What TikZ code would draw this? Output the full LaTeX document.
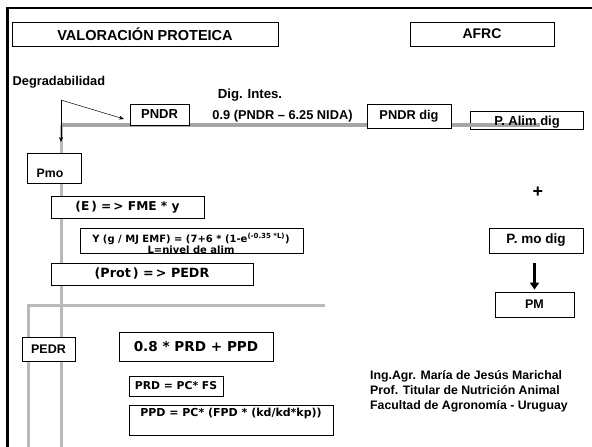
\documentclass[tikz,border=0pt]{standalone}
\usepackage{fontspec}
\setmainfont{Liberation Sans}
\newfontfamily\vf{DejaVu Sans}
\usetikzlibrary{arrows.meta}
\begin{document}
\begin{tikzpicture}[x=1pt,y=-1pt,
  box/.style={draw=black, line width=0.8pt, fill=white, inner sep=0pt, font=\bfseries},
  txt/.style={inner sep=0pt, font=\bfseries},
  frame/.style={black, line width=2.6pt},
  grayline/.style={draw={rgb,255:red,165;green,165;blue,165}, line width=3.4pt},
  lightline/.style={draw={rgb,255:red,185;green,185;blue,185}, line width=3pt},
  thin/.style={draw=black, line width=0.5pt, -{Stealth[length=5pt,width=4pt]}},
  bigarrow/.style={draw=black, line width=2.6pt, -{Triangle[length=7pt,width=9pt]}}
]
\useasboundingbox (0,0) rectangle (592,447);
\fill[white] (0,0) rectangle (592,447);

% frame
\coordinate (ftl) at (7.5,8);
\coordinate (ftr) at (592,8);
\coordinate (fbl) at (7.5,447);
\draw[frame] (ftr) -- (ftl) -- (fbl);

% gray structural lines
\coordinate (g1) at (61,125);
\coordinate (g2) at (540,125);
\coordinate (g3) at (61,447);
\coordinate (h1) at (28,305);
\coordinate (h2) at (325,305);
\coordinate (h3) at (28,447);
\draw[lightline] (g1) -- (g3);
\draw[lightline] (h3) -- (h1) -- (h2);

% P. Alim dig box (unfilled, line runs through)
\node[box, fill=none, minimum width=113pt, minimum height=18pt] (palim) at (526.5,120) {};
\draw[grayline] (g1) -- (g2);
\node[txt, font=\bfseries\fontsize{13}{15}\selectfont] (palimt) at (527,122.5) {P. Alim dig};

% titles
\node[box, minimum width=266pt, minimum height=24pt, font=\bfseries\fontsize{14.5}{17}\selectfont] (title) at (145,34) {VALORACIÓN PROTEICA};
\node[box, minimum width=144pt, minimum height=24pt, font=\bfseries\fontsize{14}{17}\selectfont] (afrc) at (482,34) {AFRC};

% degradabilidad
\node[txt, anchor=west, font=\bfseries\fontsize{12.8}{15}\selectfont] (degr) at (12.5,82) {Degradabilidad};
\coordinate (dg) at (61,100);
\coordinate (dgd) at (61,142);
\coordinate (dgr) at (124,119);
\draw[thin] (dg) -- (dgr);
\draw[thin] (dg) -- (dgd);

\node[box, minimum width=59pt, minimum height=21pt, font=\bfseries\fontsize{13}{15}\selectfont] (pndr) at (159.5,114.5) {PNDR};
\node[txt, font=\bfseries\fontsize{13.2}{15}\selectfont] (digint) at (250,95) {Dig. Intes.};
\node[txt, font=\bfseries\fontsize{12.8}{15}\selectfont] (form09) at (282.5,116.5) {0.9 (PNDR – 6.25 NIDA)};
\node[box, minimum width=84pt, minimum height=24pt, font=\bfseries\fontsize{12.8}{15}\selectfont] (pndrdig) at (409,116) {PNDR dig};

% left column
\node[box, minimum width=54pt, minimum height=30pt] (pmo) at (54,168) {};
\node[txt, font=\bfseries\fontsize{12.3}{15}\selectfont] (pmot) at (50,173) {Pmo};
\node[box, minimum width=153pt, minimum height=22pt, font=\vf\bfseries\fontsize{12.2}{15}\selectfont] (ebox) at (127.5,207) {(E\,) =\,> FME * y};
\node[box, minimum width=223pt, minimum height=25pt] (ybox) at (191.5,240.5) {};
\node[txt, font=\vf\bfseries\fontsize{10}{12}\selectfont] (yt1) at (191,239) {Y (g / MJ EMF) = (7+6 * (1-e\textsuperscript{(-0.35 *L)})};
\node[txt, font=\vf\bfseries\fontsize{10}{12}\selectfont] (yt2) at (191,250) {L=nivel de alim};
\node[box, minimum width=202pt, minimum height=22pt, font=\vf\bfseries\fontsize{12.7}{15}\selectfont] (prot) at (152,274) {(Prot\,) =\,> PEDR};

\node[box, minimum width=53pt, minimum height=24pt, font=\bfseries\fontsize{12.5}{15}\selectfont] (pedr) at (48.5,349) {PEDR};
\node[box, minimum width=154pt, minimum height=29pt, font=\vf\bfseries\fontsize{13.6}{16}\selectfont] (f08) at (196,346.5) {0.8 * PRD + PPD};
\node[box, minimum width=94pt, minimum height=20pt, font=\vf\bfseries\fontsize{10.8}{13}\selectfont] (prd) at (176,386) {PRD = PC* FS};
\node[box, minimum width=204pt, minimum height=30pt] (ppd) at (231,420) {};
\node[txt, font=\vf\bfseries\fontsize{11}{13}\selectfont] (ppdt) at (231,413) {PPD = PC* (FPD * (kd/kd*kp))};

% right column
\node[txt, font=\bfseries\fontsize{18}{20}\selectfont] (plus) at (538,192) {+};
\node[box, minimum width=94pt, minimum height=25pt, font=\bfseries\fontsize{13.5}{16}\selectfont] (pmodig) at (536,240.5) {P. mo dig};
\node[box, minimum width=79pt, minimum height=25pt, font=\bfseries\fontsize{12.5}{15}\selectfont] (pm) at (534.5,304.5) {PM};
\draw[bigarrow, shorten <=10pt, shorten >=2pt] (pm.north |- pmodig.south) -- (pm.north);

% credits
\node[txt, anchor=north west, align=left, font=\bfseries\fontsize{12.3}{15}\selectfont] (cred) at (370,370) {Ing.Agr. María de Jesús Marichal\\Prof. Titular de Nutrición Animal\\Facultad de Agronomía - Uruguay};
\end{tikzpicture}
\end{document}
